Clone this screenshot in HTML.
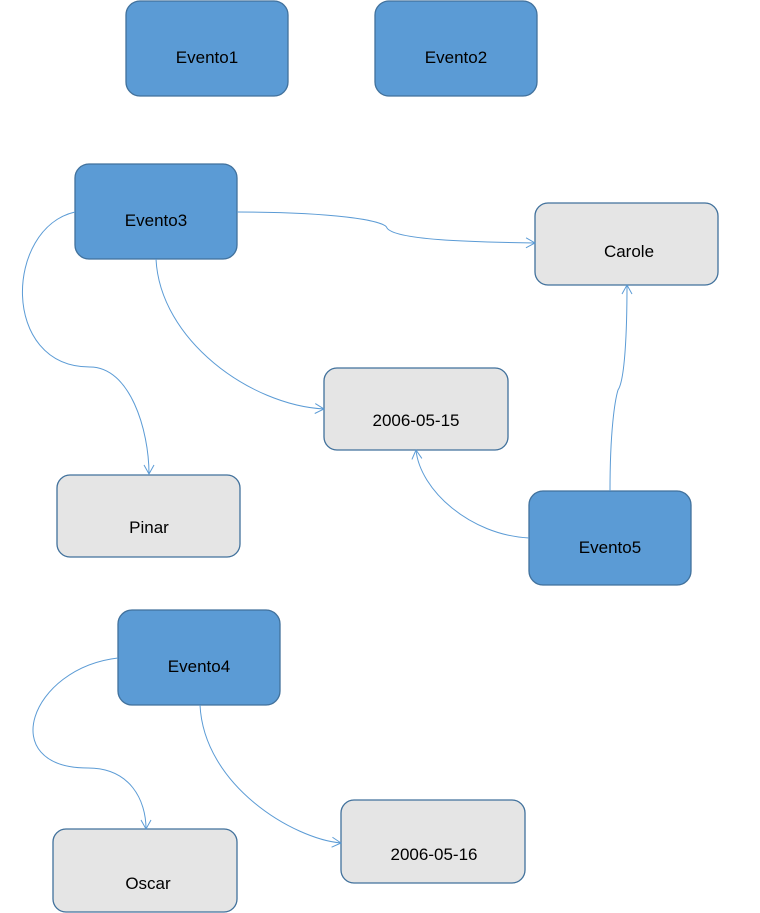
<!DOCTYPE html>
<html><head><meta charset="utf-8"><style>
body{margin:0;background:#fff;}
svg{display:block;}
text{font-family:"Liberation Sans",sans-serif;font-size:17px;fill:#000;text-anchor:middle;}
</style></head><body>
<svg width="760" height="913" viewBox="0 0 760 913">
<defs><marker id="a" markerWidth="12" markerHeight="12" refX="10" refY="6" orient="auto" markerUnits="userSpaceOnUse"><path d="M1,1 L10,6 L1,11" fill="none" stroke="#5b9bd5" stroke-width="1"/></marker></defs>
<g fill="#5b9bd5" stroke="#41719c" stroke-width="1.3">
<rect x="126" y="1" width="162" height="95" rx="14"/>
<rect x="375" y="1" width="162" height="95" rx="14"/>
<rect x="75" y="164" width="162" height="95" rx="14"/>
<rect x="529" y="491" width="162" height="94" rx="14"/>
<rect x="118" y="610" width="162" height="95" rx="14"/>
</g>
<g fill="#e5e5e5" stroke="#41719c" stroke-width="1.3">
<rect x="535" y="203" width="183" height="82" rx="13"/>
<rect x="324" y="368" width="184" height="82" rx="13"/>
<rect x="57" y="475" width="183" height="82" rx="13"/>
<rect x="53" y="829" width="184" height="83" rx="13"/>
<rect x="341" y="800" width="184" height="83" rx="13"/>
</g>
<g fill="none" stroke="#5b9bd5" stroke-width="1" marker-end="url(#a)">
<path d="M75,212 C5,228 0,367 90,367 C130,367 149,430 149,474"/>
<path d="M156,259 C160,340 250,405 324,409"/>
<path d="M237,212 C330,212 385,220 387,228 C395,240 470,242 535,243"/>
<path d="M610,491 C610,430 615,400 618,390 C625,380 627,330 627,285"/>
<path d="M529,538 C470,535 420,490 416,450"/>
<path d="M118,658 C30,668 -5,768 88,768 C130,768 146,800 146,829"/>
<path d="M200,705 C204,786 294,839 341,843"/>
</g>
<text x="207" y="63">Evento1</text>
<text x="456" y="63">Evento2</text>
<text x="156" y="226">Evento3</text>
<text x="610" y="553">Evento5</text>
<text x="199" y="672">Evento4</text>
<text x="629" y="257">Carole</text>
<text x="416" y="426">2006-05-15</text>
<text x="149" y="533">Pinar</text>
<text x="148" y="889">Oscar</text>
<text x="434" y="860">2006-05-16</text>
</svg>
</body></html>
